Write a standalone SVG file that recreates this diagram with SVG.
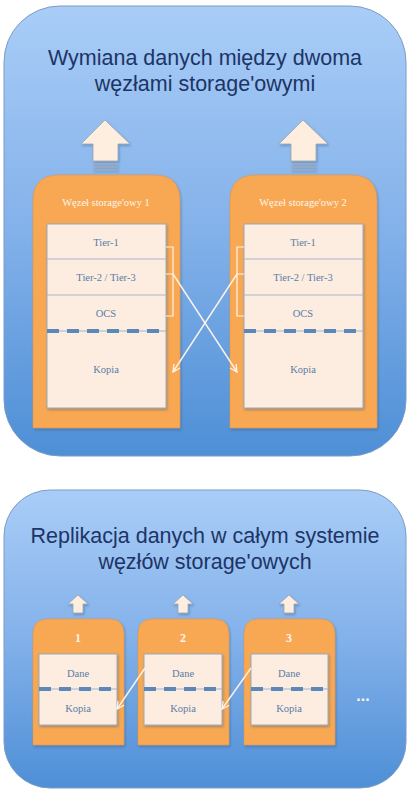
<svg xmlns="http://www.w3.org/2000/svg" width="410" height="794" viewBox="0 0 410 794">
<defs>
<linearGradient id="bg" x1="0" y1="0" x2="0" y2="1">
<stop offset="0" stop-color="#a9cdf7"/>
<stop offset="0.5" stop-color="#83b1ea"/>
<stop offset="1" stop-color="#4e8fd6"/>
</linearGradient>
<marker id="ah" viewBox="0 0 10 10" refX="9" refY="5" markerWidth="9" markerHeight="9" markerUnits="userSpaceOnUse" orient="auto">
<path d="M1,1 L9,5 L1,9" fill="none" stroke="#fdf3ea" stroke-width="1.4"/>
</marker>
<filter id="sh" x="-10%" y="-10%" width="130%" height="130%">
<feDropShadow dx="1" dy="1.5" stdDeviation="1" flood-color="#1d3f70" flood-opacity="0.35"/>
</filter>
</defs>
<style>
.panel{fill:url(#bg);stroke:#7d9cc4;stroke-width:1}
.title{font-family:"Liberation Sans",Arial,sans-serif;font-size:21.5px;fill:#1d3566;text-anchor:middle}
.node{fill:#f8a852;stroke:#e59445;stroke-width:0.6}
.inner{fill:#fdede1;stroke:#9aa9bb;stroke-width:1}
.sep{stroke:#a8b8cc;stroke-width:1.2}
.dash{stroke:#5b88b8;stroke-width:4;stroke-dasharray:12 8}
.dline{stroke:#9eb4cc;stroke-width:1}
.lbl{font-family:"Liberation Serif","Times New Roman",serif;font-size:10.5px;fill:#5a7ca6;text-anchor:middle}
.ntitle{font-family:"Liberation Serif","Times New Roman",serif;font-size:10.5px;fill:#fdf4ea;text-anchor:middle}
.num{font-family:"Liberation Serif","Times New Roman",serif;font-size:12px;font-weight:bold;fill:#fdf4ea;text-anchor:middle}
.arrow{fill:#fdeee0;stroke:#9aa5b2;stroke-width:0.8}
.stripe{stroke:#a0a9b4;stroke-width:1.2}
.conn{fill:none;stroke:#fdf3ea;stroke-width:1.4}
.brk{fill:none;stroke:#fdf3ea;stroke-width:1.2}
</style>

<!-- top panel -->
<g id="panel-top">
<rect class="panel" x="4" y="6" width="402" height="450" rx="56" ry="56"/>
<text class="title" x="205" y="65">Wymiana danych między dwoma</text>
<text class="title" x="205" y="91">węzłami storage'owymi</text>
</g>

<g id="big-arrow-1" filter="url(#sh)">
<path class="arrow" d="M105,120 L130,144 L118,144 L118,161 L93,161 L93,144 L81,144 Z"/>
<line class="stripe" x1="93" y1="164" x2="118" y2="164"/>
<line class="stripe" x1="93" y1="167" x2="118" y2="167"/>
<line class="stripe" x1="93" y1="170" x2="118" y2="170"/>
</g>
<g id="big-arrow-2" filter="url(#sh)">
<path class="arrow" d="M303,120 L328,144 L316,144 L316,161 L291,161 L291,144 L279,144 Z"/>
<line class="stripe" x1="291" y1="164" x2="316" y2="164"/>
<line class="stripe" x1="291" y1="167" x2="316" y2="167"/>
<line class="stripe" x1="291" y1="170" x2="316" y2="170"/>
</g>

<g id="node-1">
<path class="node" filter="url(#sh)" d="M33,428 L33,201 Q33,175 59,175 L154,175 Q180,175 180,201 L180,428 Z"/>
<text class="ntitle" x="106" y="206">Węzeł storage'owy 1</text>
<rect class="inner" filter="url(#sh)" x="47" y="224" width="119" height="184"/>
<line class="sep" x1="47" y1="259" x2="166" y2="259"/>
<line class="sep" x1="47" y1="295" x2="166" y2="295"/>
<line class="dline" x1="47" y1="331" x2="166" y2="331"/>
<line class="dash" x1="47" y1="331" x2="166" y2="331"/>
<text class="lbl" x="106" y="246">Tier-1</text>
<text class="lbl" x="106" y="281">Tier-2 / Tier-3</text>
<text class="lbl" x="106" y="317">OCS</text>
<text class="lbl" x="106" y="373">Kopia</text>
</g>

<g id="node-2">
<path class="node" filter="url(#sh)" d="M230,428 L230,201 Q230,175 256,175 L351,175 Q377,175 377,201 L377,428 Z"/>
<text class="ntitle" x="303" y="206">Węzeł storage'owy 2</text>
<rect class="inner" filter="url(#sh)" x="244" y="224" width="119" height="184"/>
<line class="sep" x1="244" y1="259" x2="363" y2="259"/>
<line class="sep" x1="244" y1="295" x2="363" y2="295"/>
<line class="dline" x1="244" y1="331" x2="363" y2="331"/>
<line class="dash" x1="244" y1="331" x2="363" y2="331"/>
<text class="lbl" x="303" y="246">Tier-1</text>
<text class="lbl" x="303" y="281">Tier-2 / Tier-3</text>
<text class="lbl" x="303" y="317">OCS</text>
<text class="lbl" x="303" y="373">Kopia</text>
</g>

<!-- bottom panel -->
<g id="panel-bottom">
<rect class="panel" x="4" y="490" width="402" height="298" rx="46" ry="46"/>
<text class="title" x="205" y="543">Replikacja danych w całym systemie</text>
<text class="title" x="205" y="569">węzłów storage'owych</text>
<text x="363" y="701" font-family="Liberation Sans,Arial,sans-serif" font-size="16" font-weight="bold" fill="#fdf4ea" text-anchor="middle">...</text>
</g>

<g id="small-arrow-1" filter="url(#sh)">
<path class="arrow" d="M78,595 L88,604 L83,604 L83,613 L73,613 L73,604 L68,604 Z"/>
</g>
<g id="small-arrow-2" filter="url(#sh)">
<path class="arrow" d="M183,595 L193,604 L188,604 L188,613 L178,613 L178,604 L173,604 Z"/>
</g>
<g id="small-arrow-3" filter="url(#sh)">
<path class="arrow" d="M289,595 L299,604 L294,604 L294,613 L284,613 L284,604 L279,604 Z"/>
</g>

<g id="node-b1">
<path class="node" filter="url(#sh)" d="M33,745 L33,634 Q33,619 48,619 L109,619 Q124,619 124,634 L124,745 Z"/>
<text class="num" x="78" y="642">1</text>
<rect class="inner" filter="url(#sh)" x="39" y="654" width="78" height="71"/>
<line class="dline" x1="39" y1="689" x2="117" y2="689"/>
<line class="dash" x1="39" y1="689" x2="117" y2="689"/>
<text class="lbl" x="78" y="677">Dane</text>
<text class="lbl" x="78" y="712">Kopia</text>
</g>
<g id="node-b2">
<path class="node" filter="url(#sh)" d="M138,745 L138,634 Q138,619 153,619 L214,619 Q229,619 229,634 L229,745 Z"/>
<text class="num" x="183" y="642">2</text>
<rect class="inner" filter="url(#sh)" x="144" y="654" width="78" height="71"/>
<line class="dline" x1="144" y1="689" x2="222" y2="689"/>
<line class="dash" x1="144" y1="689" x2="222" y2="689"/>
<text class="lbl" x="183" y="677">Dane</text>
<text class="lbl" x="183" y="712">Kopia</text>
</g>
<g id="node-b3">
<path class="node" filter="url(#sh)" d="M244,745 L244,634 Q244,619 259,619 L320,619 Q335,619 335,634 L335,745 Z"/>
<text class="num" x="289" y="642">3</text>
<rect class="inner" filter="url(#sh)" x="251" y="654" width="77" height="71"/>
<line class="dline" x1="251" y1="689" x2="328" y2="689"/>
<line class="dash" x1="251" y1="689" x2="328" y2="689"/>
<text class="lbl" x="289" y="677">Dane</text>
<text class="lbl" x="289" y="712">Kopia</text>
</g>

<g id="connectors">
<path class="brk" d="M166,247 L173,247 L173,316 L166,316 M166,274 L173,274"/>
<path class="brk" d="M244,247 L237,247 L237,316 L244,316 M244,274 L237,274"/>
<line class="conn" x1="173" y1="274" x2="237" y2="372" marker-end="url(#ah)"/>
<line class="conn" x1="237" y1="274" x2="173" y2="372" marker-end="url(#ah)"/>
<line class="conn" x1="145" y1="668" x2="117" y2="709" marker-end="url(#ah)"/>
<line class="conn" x1="251" y1="668" x2="222" y2="709" marker-end="url(#ah)"/>
</g>
</svg>
